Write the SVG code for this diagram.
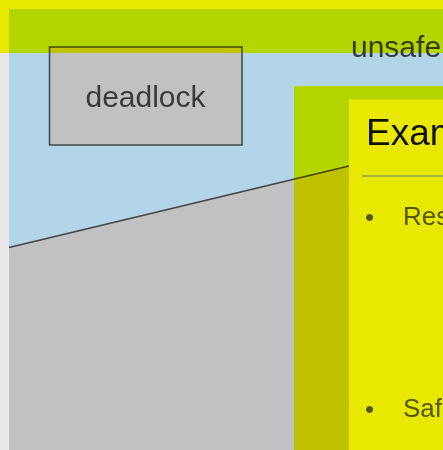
<svg xmlns="http://www.w3.org/2000/svg" width="443" height="450" viewBox="0 0 443 450">
<style>
.hl{fill:#ffff00;mix-blend-mode:multiply}
.t{font-family:"Liberation Sans",Arial,Helvetica,sans-serif}
.lbl{font-size:30px;fill:#3a3a3a}
.body{font-size:26px;fill:#55550c}
</style>
<rect x="0" y="0" width="443" height="450" fill="#e8e8e8"/>
<g id="safe-region">
<polygon points="9,9 443,9 443,143 9,247.5" fill="#b3d5e8"/>
</g>
<g id="unsafe-lower">
<polygon points="9,247.5 443,143 443,450 9,450" fill="#c0c1c3"/>
</g>
<g id="connectors">
<line x1="9" y1="247.5" x2="349" y2="166" stroke="#444" stroke-width="1.5"/>
</g>
<g id="deadlock">
<rect x="49.5" y="47" width="192.5" height="98" fill="#c0c1c3" stroke="#444" stroke-width="1.5"/>
<text class="t lbl" x="145.5" y="106.5" text-anchor="middle">deadlock</text>
</g>
<g id="unsafe">
<text class="t lbl" x="351" y="57">unsafe</text>
</g>
<g id="highlights">
<rect class="hl" x="0" y="0" width="443" height="53"/>
<rect class="hl" x="294" y="86" width="149" height="364"/>
</g>
<g id="panel">
<rect x="349" y="99.5" width="94" height="350.5" fill="#e8e800"/>
<text class="t" x="366" y="145" font-size="37" fill="#111">Exam</text>
<line x1="362" y1="176" x2="443" y2="176" stroke="#777" stroke-width="1"/>
<text class="t body" x="365" y="226" font-size="16">•</text>
<text class="t body" x="403" y="225">Res</text>
<text class="t body" x="365" y="417.5" font-size="16">•</text>
<text class="t body" x="403" y="416.5">Saf</text>
</g>
</svg>
